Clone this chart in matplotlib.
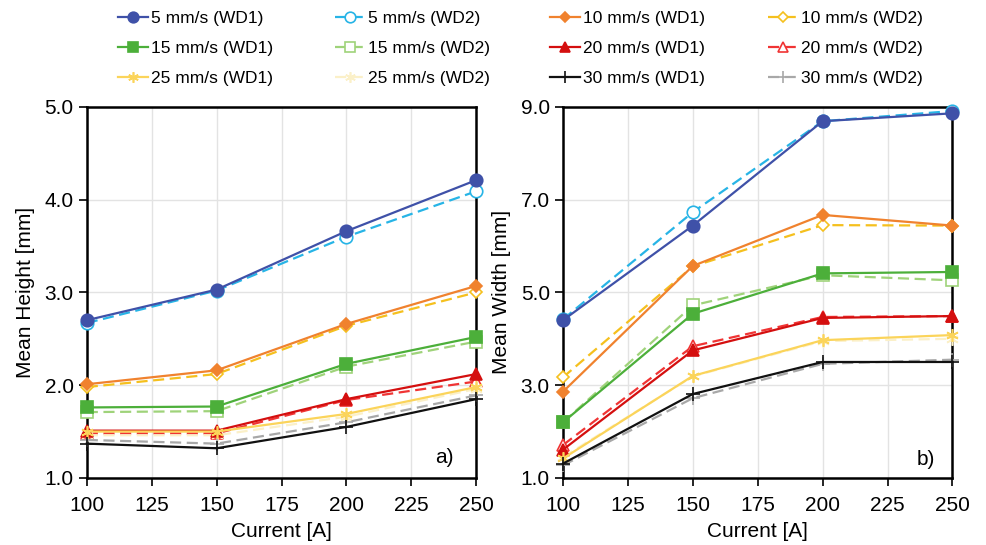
import numpy as np
import matplotlib
matplotlib.use('Agg')
import matplotlib.pyplot as plt

plt.rcParams['font.family'] = ['Liberation Sans', 'DejaVu Sans']

current = [100, 150, 200, 250]

labels = ['5 mm/s (WD1)', '5 mm/s (WD2)', '10 mm/s (WD1)', '10 mm/s (WD2)',
          '15 mm/s (WD1)', '15 mm/s (WD2)', '20 mm/s (WD1)', '20 mm/s (WD2)',
          '25 mm/s (WD1)', '25 mm/s (WD2)', '30 mm/s (WD1)', '30 mm/s (WD2)']

# mean height [mm], panel a
height_5_wd1 = [2.70, 3.03, 3.66, 4.21]
height_5_wd2 = [2.67, 3.02, 3.60, 4.09]
height_10_wd1 = [2.01, 2.16, 2.66, 3.07]
height_10_wd2 = [1.98, 2.12, 2.64, 3.00]
height_15_wd1 = [1.76, 1.77, 2.23, 2.52]
height_15_wd2 = [1.71, 1.72, 2.20, 2.47]
height_20_wd1 = [1.51, 1.51, 1.85, 2.12]
height_20_wd2 = [1.48, 1.48, 1.84, 2.04]
height_25_wd1 = [1.50, 1.50, 1.69, 1.98]
height_25_wd2 = [1.46, 1.46, 1.66, 1.96]
height_30_wd1 = [1.37, 1.32, 1.55, 1.85]
height_30_wd2 = [1.41, 1.37, 1.60, 1.89]

# mean width [mm], panel b
width_5_wd1 = [4.40, 6.44, 8.69, 8.86]
width_5_wd2 = [4.42, 6.73, 8.69, 8.91]
width_10_wd1 = [2.86, 5.57, 6.67, 6.44]
width_10_wd2 = [3.17, 5.56, 6.45, 6.44]
width_15_wd1 = [2.20, 4.54, 5.41, 5.44]
width_15_wd2 = [2.20, 4.72, 5.37, 5.26]
width_20_wd1 = [1.61, 3.75, 4.45, 4.49]
width_20_wd2 = [1.71, 3.84, 4.47, 4.49]
width_25_wd1 = [1.42, 3.20, 3.97, 4.08]
width_25_wd2 = [1.45, 3.19, 3.95, 4.00]
width_30_wd1 = [1.31, 2.81, 3.50, 3.50]
width_30_wd2 = [1.27, 2.72, 3.46, 3.55]

heights = [height_5_wd1, height_5_wd2, height_10_wd1, height_10_wd2,
           height_15_wd1, height_15_wd2, height_20_wd1, height_20_wd2,
           height_25_wd1, height_25_wd2, height_30_wd1, height_30_wd2]
widths = [width_5_wd1, width_5_wd2, width_10_wd1, width_10_wd2,
          width_15_wd1, width_15_wd2, width_20_wd1, width_20_wd2,
          width_25_wd1, width_25_wd2, width_30_wd1, width_30_wd2]

colors = ['#3f51a8', '#27b4e6', '#f0822e', '#f5c01e',
          '#4caf3a', '#9fd37a', '#d40f0f', '#f03434',
          '#fbd45a', '#fbf0c8', '#111111', '#a8a8a8']
markers = ['o', 'o', 'D', 'D', 's', 's', '^', '^', (6, 2, 0), (6, 2, 0), '+', '+']
filled = [True, False] * 6
msizes = [9, 9, 6, 6, 9, 9, 8, 8, 9, 9, 10, 10]

fig = plt.figure(figsize=(9.86, 5.45), dpi=100)
ax1 = fig.add_axes([0.088, 0.123, 0.395, 0.681])
ax2 = fig.add_axes([0.571, 0.123, 0.395, 0.681])

handles = []
for ax, data in [(ax1, heights), (ax2, widths)]:
    for i in range(12):
        h, = ax.plot(current, data[i], color=colors[i], lw=1.6,
                     ls='-' if filled[i] else (0, (5, 2.5)),
                     marker=markers[i], ms=msizes[i],
                     markerfacecolor=colors[i] if filled[i] else 'white',
                     markeredgecolor=colors[i], mew=1.2, label=labels[i],
                     clip_on=False, zorder=4 if filled[i] else 3)
        if ax is ax1:
            handles.append(h)

for ax in (ax1, ax2):
    ax.set_xlim(100, 250)
    ax.set_xticks([100, 125, 150, 175, 200, 225, 250])
    ax.grid(True, color='#e3e3e3', lw=1.0, zorder=0)
    ax.set_axisbelow(True)
    for s in ax.spines.values():
        s.set_linewidth(1.8)
        s.set_color('black')
    ax.tick_params(labelsize=15, direction='out', length=6, width=1.2)
    ax.tick_params(axis='x', pad=7)
    ax.set_xlabel('Current [A]', fontsize=15, labelpad=5)

ax1.set_ylim(1.0, 5.0)
ax1.set_yticks([1.0, 2.0, 3.0, 4.0, 5.0])
ax1.set_yticklabels(['%.1f' % v for v in ax1.get_yticks()])
ax1.set_ylabel('Mean Height [mm]', fontsize=15, labelpad=7)
ax1.text(0.943, 0.04, 'a)', transform=ax1.transAxes, fontsize=15, ha='right')

ax2.set_ylim(1.0, 9.0)
ax2.set_yticks([1.0, 3.0, 5.0, 7.0, 9.0])
ax2.set_yticklabels(['%.1f' % v for v in ax2.get_yticks()])
ax2.set_ylabel('Mean Width [mm]', fontsize=15, labelpad=7)
ax2.text(0.956, 0.035, 'b)', transform=ax2.transAxes, fontsize=15, ha='right')

# legend: 4 columns, each one its own legend so columns sit where they should
col_x = [118, 335, 550, 768]
for c in range(4):
    idx = [c, c + 4, c + 8]
    leg = fig.legend([handles[k] for k in idx], [labels[k] for k in idx],
                     loc='upper left', bbox_to_anchor=(col_x[c] / 986, 1 - 11 / 545),
                     frameon=False, fontsize=12.5, borderpad=0, borderaxespad=0,
                     handlelength=1.7, handletextpad=0.2, labelspacing=0.85,
                     markerscale=0.85)

fig.savefig('out.png', dpi=100)
